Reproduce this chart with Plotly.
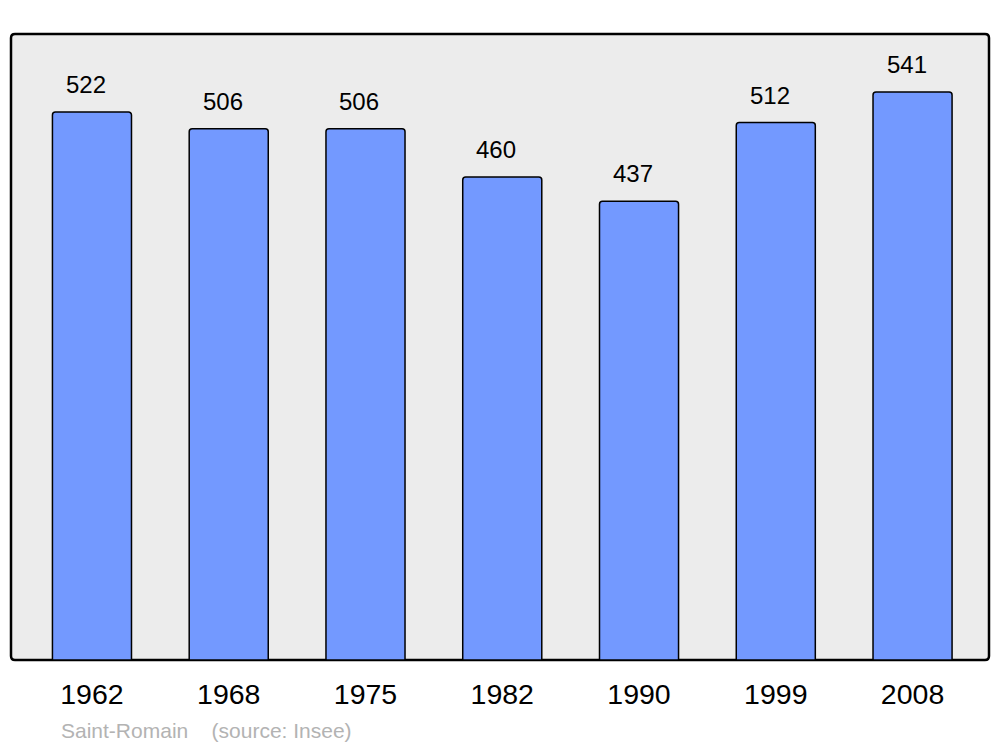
import plotly.graph_objects as go

years = ["1962", "1968", "1975", "1982", "1990", "1999", "2008"]
population = [522, 506, 506, 460, 437, 512, 541]
source_text = "Saint-Romain    (source: Insee)"

OFF = 8  # page body margin
W, H = 1000 - OFF, 747 - OFF
L, R, T, B = 11 - OFF, 11, 34 - OFF, 87
pw, ph = W - L - R, H - T - B

xpos = list(range(len(years)))

fig = go.Figure()
fig.add_trace(go.Bar(
    x=xpos, y=population, width=0.578,
    marker=dict(color="#7399ff", line=dict(color="#000000", width=1.5), cornerradius=3),
    hoverinfo="skip",
))

for xi, v in zip(xpos, population):
    fig.add_annotation(x=xi, y=v, text=str(v), showarrow=False, yanchor="bottom",
                       yshift=12, xshift=-6,
                       font=dict(size=24, color="#000000", family="Liberation Sans, Arial, sans-serif"))

fig.add_annotation(xref="paper", yref="paper", x=(59 - 11) / pw, y=-(730 - 660) / ph,
                   xanchor="left", yanchor="middle", showarrow=False, text=source_text,
                   font=dict(size=21, color="#b3b3b3", family="Liberation Sans, Arial, sans-serif"))

# rounded plot-area frame
rx, ry = 4 / pw, 4 / ph
path = (f"M {rx},0 L {1-rx},0 Q 1,0 1,{ry} L 1,{1-ry} Q 1,1 {1-rx},1 "
        f"L {rx},1 Q 0,1 0,{1-ry} L 0,{ry} Q 0,0 {rx},0 Z")
fig.add_shape(type="path", xref="paper", yref="paper", path=path,
              fillcolor="#ececec", line=dict(color="#000000", width=2.5), layer="below")

fig.update_layout(
    width=W, height=H,
    margin=dict(l=L, r=R, t=T, b=B, pad=0),
    paper_bgcolor="#ffffff", plot_bgcolor="rgba(0,0,0,0)",
    showlegend=False,
    font=dict(family="Liberation Sans, Arial, sans-serif"),
    xaxis=dict(range=[-0.592, 6.559], tickmode="array", tickvals=xpos, ticktext=years,
               showgrid=False, zeroline=False, showline=False,
               ticks="outside", ticklen=9, tickcolor="rgba(0,0,0,0)",
               tickfont=dict(size=28.5, color="#000000")),
    yaxis=dict(range=[0, 596.3], showgrid=False, zeroline=False, showticklabels=False, showline=False),
)

fig.write_html("out.html")
